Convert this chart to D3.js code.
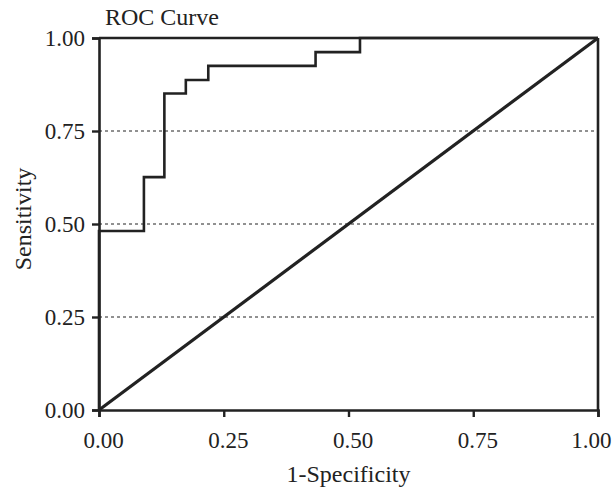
<!DOCTYPE html>
<html>
<head>
<meta charset="utf-8">
<script src="https://cdn.jsdelivr.net/npm/d3@7"></script>
<style>
  body { margin: 0; background: #fff; }
  text { font-family: "Liberation Serif", "Times New Roman", serif; fill: #222; }
</style>
</head>
<body>
<div id="chart"></div>
<script>
// ROC step curve (1-specificity, sensitivity)
var fpr = [0, 0, 0.09, 0.09, 0.131, 0.131, 0.174, 0.174, 0.219, 0.219, 0.434, 0.434, 0.523, 0.523, 1];
var tpr = [0, 0.481, 0.481, 0.626, 0.626, 0.851, 0.851, 0.887, 0.887, 0.925, 0.925, 0.962, 0.962, 1, 1];
var ticks = [0, 0.25, 0.5, 0.75, 1];
var gridTicks = [0.25, 0.5, 0.75];

var W = 615, H = 494;
var margin = { top: 38, right: 17, bottom: 84, left: 99 };
var w = W - margin.left - margin.right, h = H - margin.top - margin.bottom;

var svg = d3.select('#chart').append('svg')
  .attr('width', W).attr('height', H);
var g = svg.append('g')
  .attr('transform', 'translate(' + margin.left + ',' + margin.top + ')');

var x = d3.scaleLinear().domain([0, 1]).range([0, w]);
var y = d3.scaleLinear().domain([0, 1]).range([h, 0]);

// dotted gridlines
g.selectAll('.grid').data(gridTicks).enter().append('line')
  .attr('x1', 0).attr('x2', w)
  .attr('y1', d => y(d)).attr('y2', d => y(d))
  .attr('stroke', '#222').attr('stroke-width', 1)
  .attr('stroke-dasharray', '3,3');

// reference diagonal
g.append('line')
  .attr('x1', x(0)).attr('y1', y(0))
  .attr('x2', x(1)).attr('y2', y(1))
  .attr('stroke', '#222').attr('stroke-width', 3.2);

// roc curve
var pts = fpr.map((v, i) => [v, tpr[i]]);
g.append('path')
  .attr('d', d3.line().x(d => x(d[0])).y(d => y(d[1]))(pts))
  .attr('fill', 'none').attr('stroke', '#222')
  .attr('stroke-width', 2.6).attr('stroke-linejoin', 'miter');

// frame top / right
g.append('line').attr('x1', 0).attr('x2', w).attr('y1', 0).attr('y2', 0)
  .attr('stroke', '#222').attr('stroke-width', 2.6);
g.append('line').attr('x1', w).attr('x2', w).attr('y1', 0).attr('y2', h)
  .attr('stroke', '#222').attr('stroke-width', 2.6);

// axes
var fmt = d3.format('.2f');
var xAxis = g.append('g').attr('transform', 'translate(0,' + h + ')')
  .call(d3.axisBottom(x).tickValues(ticks).tickFormat(fmt).tickSize(7).tickPadding(15));
var yAxis = g.append('g')
  .call(d3.axisLeft(y).tickValues(ticks).tickFormat(fmt).tickSize(7).tickPadding(7));

[xAxis, yAxis].forEach(a => {
  a.select('.domain').attr('stroke', '#222').attr('stroke-width', 2.6);
  a.selectAll('.tick line').attr('stroke', '#222').attr('stroke-width', 2.4);
  a.selectAll('.tick text')
    .style('font-family', '"Liberation Serif", "Times New Roman", serif')
    .style('font-size', '23px').attr('fill', '#222');
});

// x tick labels: baseline and slight right shift as in the original,
// the last one is right-aligned so it stays inside the page
xAxis.selectAll('.tick text')
  .attr('y', 38).attr('dy', 0).attr('dx', 4)
  .filter(d => d === 1)
  .attr('text-anchor', 'end').attr('dx', 0)
  .attr('x', 13);

// labels
svg.append('text')
  .attr('x', 105).attr('y', 25)
  .style('font-size', '24px')
  .text('ROC Curve');

svg.append('text')
  .attr('x', margin.left + w / 2).attr('y', 482)
  .attr('text-anchor', 'middle')
  .style('font-size', '24px')
  .text('1-Specificity');

svg.append('text')
  .attr('transform', 'translate(31,' + (margin.top + h / 2 - 5) + ') rotate(-90)')
  .attr('text-anchor', 'middle')
  .style('font-size', '24px')
  .text('Sensitivity');
</script>
</body>
</html>
